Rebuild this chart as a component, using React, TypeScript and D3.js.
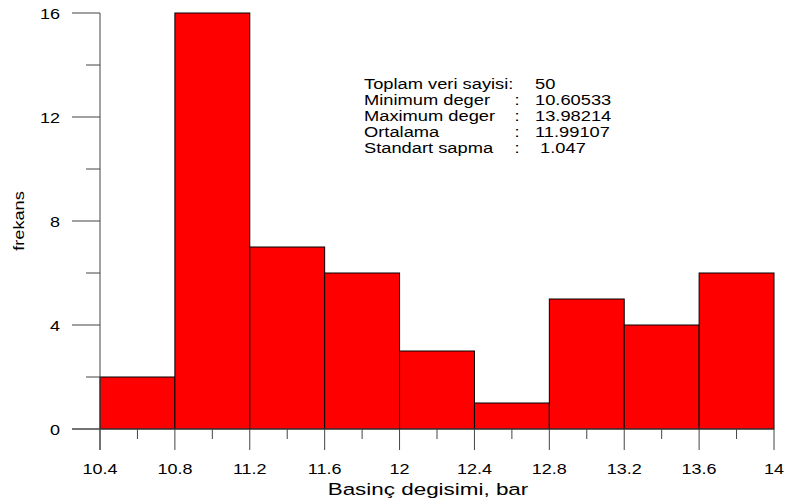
import React from 'react';
import * as d3 from 'd3';

const binEdges = [10.4, 10.8, 11.2, 11.6, 12, 12.4, 12.8, 13.2, 13.6, 14];
const counts = [2, 16, 7, 6, 3, 1, 5, 4, 6];
const xTicks = [10.4, 10.8, 11.2, 11.6, 12, 12.4, 12.8, 13.2, 13.6, 14];
const xMinorTicks = [10.6, 11.0, 11.4, 11.8, 12.2, 12.6, 13.0, 13.4, 13.8];
const yTicks = [0, 4, 8, 12, 16];
const yMinorTicks = [2, 6, 10, 14];
const statLabels = ['Toplam veri sayisi:', 'Minimum deger', 'Maximum deger', 'Ortalama', 'Standart sapma'];
const statColons = ['', ':', ':', ':', ':'];
const statValues = ['50', '10.60533', '13.98214', '11.99107', ' 1.047'];

const W = 786;
const H = 502;
const font = 'Arial, "Liberation Sans", sans-serif';
const SX = 1.22; // text in the original is horizontally stretched

// stretched text helper
const T: React.FC<{ x: number; y: number; size: number; anchor?: string; sx?: number; rotate?: number; children: React.ReactNode }> = ({ x, y, size, anchor = 'start', sx = SX, rotate = 0, children }) => (
  <text
    transform={`translate(${x},${y}) rotate(${rotate}) scale(${sx},1)`}
    textAnchor={anchor}
    fontFamily={font}
    fontSize={size}
    fill="#000"
    style={{ whiteSpace: 'pre' }}
  >
    {children}
  </text>
);

const App: React.FC = () => {
  const x = d3.scaleLinear().domain([10.4, 14]).range([100, 774]);
  const y = d3.scaleLinear().domain([0, 16]).range([429, 13]);
  const axisColor = '#444';

  return (
    <svg width={W} height={H} style={{ position: 'absolute', left: 0, top: 0, background: '#fff' }}>
      {/* bars */}
      {counts.map((c, i) => (
        <rect
          key={i}
          x={x(binEdges[i])}
          y={y(c)}
          width={x(binEdges[i + 1]) - x(binEdges[i])}
          height={y(0) - y(c)}
          fill="#ff0000"
          stroke="#000"
          strokeWidth={1}
        />
      ))}

      {/* y axis */}
      <line x1={100} x2={100} y1={y(16)} y2={450} stroke={axisColor} />
      {yTicks.map(t => (
        <g key={t}>
          <line x1={72} x2={100} y1={y(t)} y2={y(t)} stroke={axisColor} />
          <T x={60} y={y(t) + 5.5} size={15} anchor="end" sx={1.2}>{t}</T>
        </g>
      ))}
      {yMinorTicks.map(t => (
        <line key={t} x1={86} x2={100} y1={y(t)} y2={y(t)} stroke={axisColor} />
      ))}

      {/* x axis */}
      <line x1={72} x2={x(14)} y1={y(0)} y2={y(0)} stroke={axisColor} />
      {xTicks.map(t => (
        <g key={t}>
          <line x1={x(t)} x2={x(t)} y1={y(0)} y2={450} stroke={axisColor} />
          <T x={x(t)} y={474} size={15} anchor="middle" sx={1.2}>{d3.format('~g')(t)}</T>
        </g>
      ))}
      {xMinorTicks.map(t => (
        <line key={t} x1={x(t)} x2={x(t)} y1={y(0)} y2={439} stroke={axisColor} />
      ))}

      {/* axis titles */}
      <T x={428} y={495} size={17} anchor="middle" sx={1.32}>Basinç degisimi, bar</T>
      <T x={24} y={221} size={14} anchor="middle" rotate={-90} sx={1.3}>frekans</T>

      {/* stats */}
      {statLabels.map((s, i) => (
        <g key={s}>
          <T x={364} y={89 + i * 16} size={15}>{s}</T>
          <T x={517} y={89 + i * 16} size={15} anchor="middle">{statColons[i]}</T>
          <T x={535} y={89 + i * 16} size={15}>{statValues[i]}</T>
        </g>
      ))}
    </svg>
  );
};

export default App;
